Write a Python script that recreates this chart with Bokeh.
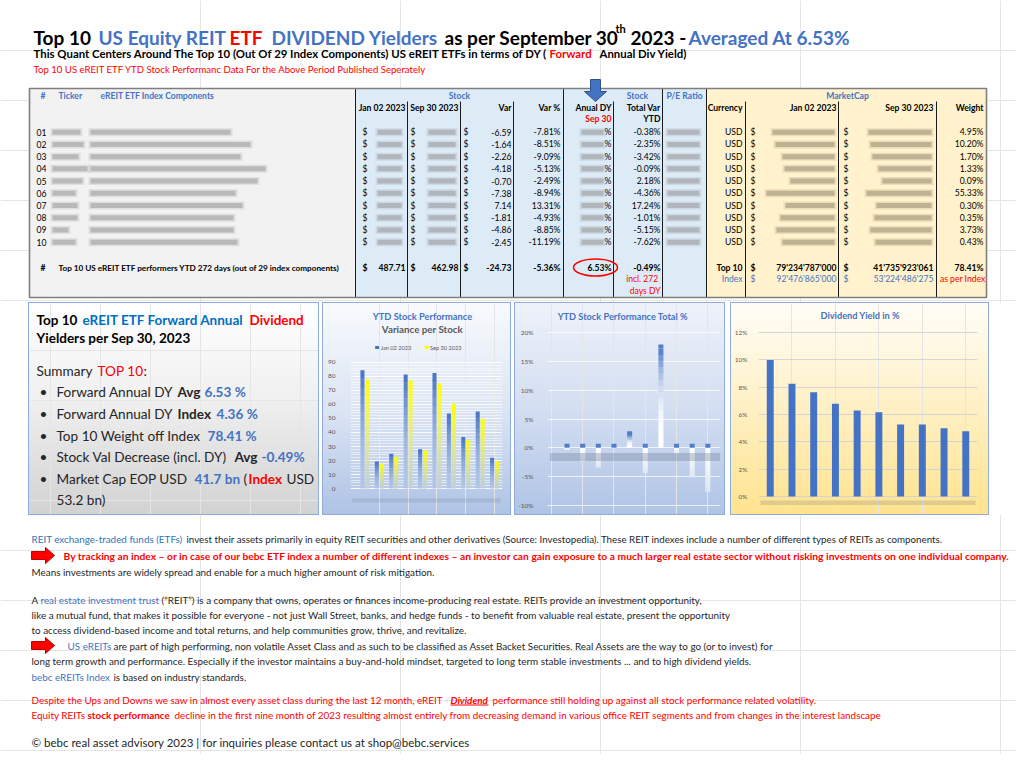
from bokeh.plotting import figure
from bokeh.models import Range1d, Spacer, FixedTicker, PrintfTickFormatter
from bokeh.layouts import column, row
from bokeh.core.properties import value
from bokeh.embed import file_html
from bokeh.resources import INLINE

FONT = "Lato"
BLUE = "#4472C4"
DBLUE = "#0070C0"
RED = "#FF0000"
GTXT = "#595959"

# ---------------- data ----------------
row_ids = ["01", "02", "03", "04", "05", "06", "07", "08", "09", "10"]
price_jan02 = [84.38, 19.27, 24.86, 81.48, 28.11, 82.55, 53.64, 36.71, 54.92, 21.89]
price_sep30 = [77.79, 17.63, 22.60, 77.30, 27.41, 75.17, 60.78, 34.90, 50.06, 19.44]
var_usd = [-6.59, -1.64, -2.26, -4.18, -0.70, -7.38, 7.14, -1.81, -4.86, -2.45]
var_pct = [-7.81, -8.51, -9.09, -5.13, -2.49, -8.94, 13.31, -4.93, -8.85, -11.19]
total_var_ytd = [-0.38, -2.35, -3.42, -0.09, 2.18, -4.36, 17.24, -1.01, -5.15, -7.62]
div_yield = [9.98, 8.24, 7.63, 6.78, 6.29, 6.17, 5.27, 5.27, 5.00, 4.77]
weight_pct = [4.95, 10.20, 1.70, 1.33, 0.09, 55.33, 0.30, 0.35, 3.73, 0.43]
currency = ["USD"] * 10
chart1_ticks = [0, 10, 20, 30, 40, 50, 60, 70, 80, 90]
chart2_ticks = [-10, -5, 0, 5, 10, 15, 20]
chart3_ticks = [0, 2, 4, 6, 8, 10, 12]
total_jan02 = 487.71
total_sep30 = 462.98
total_var_pct = -5.36
avg_dy = 6.53
avg_total_var = -0.49
index_dy = 4.36
weight_top10 = 78.41
mcap_top10 = ["79'234'787'000", "41'735'923'061"]
mcap_index = ["92'476'865'000", "53'224'486'275"]
mcap_eop_bn = 41.7
mcap_index_bn = 53.2


# ---------------- helpers ----------------
def hex2rgb(h):
    return tuple(int(h[i:i + 2], 16) for i in (1, 3, 5))


def rgb2hex(c):
    return "#%02x%02x%02x" % tuple(int(round(max(0, min(255, v)))) for v in c)


def mix(a, b, t):
    A, B = hex2rgb(a), hex2rgb(b)
    return rgb2hex([A[i] + (B[i] - A[i]) * t for i in range(3)])


def grad_at(stops, t):
    t = max(0.0, min(1.0, t))
    for (t0, c0), (t1, c1) in zip(stops[:-1], stops[1:]):
        if t <= t1:
            return mix(c0, c1, (t - t0) / (t1 - t0) if t1 > t0 else 0)
    return stops[-1][1]


def css_grad(stops):
    return "linear-gradient(to bottom, " + ", ".join(f"{c} {int(t * 100)}%" for t, c in stops) + ")"


def canvas(w, h, xr, yr):
    p = figure(width=w, height=h, x_range=Range1d(*xr), y_range=Range1d(*yr),
               output_backend="svg", toolbar_location=None,
               x_axis_location=None, y_axis_location=None,
               min_border_left=0, min_border_right=0, min_border_top=0, min_border_bottom=0)
    p.outline_line_color = None
    p.background_fill_color = None
    p.border_fill_color = None
    return p


def T(p, x, y, s, color="#000000", size=9.0, bold=False, italic=False, align="left", base="middle"):
    xs = list(x) if isinstance(x, (list, tuple)) else [x]
    ys = list(y) if isinstance(y, (list, tuple)) else [y] * len(xs)
    ss = list(s) if isinstance(s, (list, tuple)) else [s] * len(xs)
    st = "bold italic" if (bold and italic) else ("bold" if bold else ("italic" if italic else "normal"))
    p.text(x=xs, y=ys, text=ss, text_color=color, text_font=value(FONT),
           text_font_size=f"{size}px", text_font_style=st, text_align=align, text_baseline=base)


def blur(p, x0s, x1s, ycs, h=5.0, color="#8C8C8C"):
    p.quad(left=[a - 2 for a in x0s], right=[b + 2 for b in x1s],
           top=[y - h / 2 - 1.5 for y in ycs], bottom=[y + h / 2 + 1.5 for y in ycs],
           fill_color=color, fill_alpha=0.18, line_color=None)
    p.quad(left=x0s, right=x1s, top=[y - h / 2 for y in ycs], bottom=[y + h / 2 for y in ycs],
           fill_color=color, fill_alpha=0.45, line_color=None)


# ================= TOP: titles + table =================
top = canvas(1016, 303, (0, 1016), (303, 0))

TS = 19
T(top, 33, 37, "Top 10", size=TS, bold=True, base="alphabetic")
T(top, 98, 37, "US Equity REIT", BLUE, TS, True, base="alphabetic")
T(top, 229, 37, "ETF", RED, TS, True, base="alphabetic")
T(top, 271, 37, "DIVIDEND Yielders", BLUE, TS, True, base="alphabetic")
T(top, 444, 37, "as per September 30", size=TS, bold=True, base="alphabetic")
T(top, 615, 28, "th", size=11, bold=True, base="alphabetic")
T(top, 630, 37, "2023 -", size=TS, bold=True, base="alphabetic")
T(top, 688, 37, f"Averaged At {avg_dy:.2f}%", BLUE, TS, True, base="alphabetic")

T(top, 33, 53, "This Quant Centers Around The Top 10 (Out Of 29 Index Components) US eREIT ETFs in terms of DY (",
  size=11.4, bold=True)
T(top, 549, 53, "Forward", RED, 11.4, True)
T(top, 599, 53, "Annual Div Yield)", size=11.4, bold=True)
T(top, 33, 69, "Top 10 US eREIT ETF YTD Stock Performanc Data For the Above Period Published Seperately",
  RED, 9.6)

# table backgrounds and rules
top.quad(left=[29, 355, 706], right=[355, 706, 986], top=[88, 88, 88], bottom=[297, 297, 297],
         fill_color=["#F2F2F2", "#DDEBF7", "#FFF2CC"], line_color=None)
full_lines = [355, 563, 662, 706]
part_lines = [407, 460, 513, 613, 745, 838, 936]
top.segment(x0=full_lines, y0=[88] * 4, x1=full_lines, y1=[297] * 4, line_color="#1A1A1A", line_width=1)
top.segment(x0=part_lines, y0=[101] * 7, x1=part_lines, y1=[297] * 7, line_color="#1A1A1A", line_width=1)
top.quad(left=[29], right=[986], top=[88], bottom=[297], fill_color=None,
         line_color="#7F7F7F", line_width=1.6)

# header
HS = 8.6
T(top, 40, 95, "#", BLUE, HS, True)
T(top, 58, 95, "Ticker", BLUE, HS, True)
T(top, 100, 95, "eREIT ETF Index Components", BLUE, HS, True)
T(top, [459, 637, 684, 847], 95, ["Stock", "Stock", "P/E Ratio", "MarketCap"], BLUE, HS, True, align="center")
T(top, [405, 458, 511, 560, 611, 660, 742, 836, 933, 983], 107,
  ["Jan 02 2023", "Sep 30 2023", "Var", "Var %", "Anual DY", "Total Var", "Currency",
   "Jan 02 2023", "Sep 30 2023", "Weight"], size=HS, bold=True, align="right")
T(top, 611, 118, "Sep 30", RED, HS, True, align="right")
T(top, 660, 118, "YTD", size=HS, bold=True, align="right")

# blue arrow above Anual DY
top.patch(x=[590, 600, 600, 606, 595, 584, 590], y=[79, 79, 91, 91, 101, 91, 91],
          fill_color=BLUE, line_color="#2F528F", line_width=1)

# rows
ROW_Y = [131.7 + 12.22 * i for i in range(10)]
RS = 8.6
T(top, [36] * 10, ROW_Y, row_ids, size=RS)
for xd in (362, 410, 463, 750, 843):
    T(top, [xd] * 10, ROW_Y, "$", size=RS)
T(top, [511] * 10, ROW_Y, [f"{v:.2f}" for v in var_usd], size=RS, align="right")
T(top, [560] * 10, ROW_Y, [f"{v:.2f}%" for v in var_pct], size=RS, align="right")
T(top, [611] * 10, ROW_Y, "%", size=RS, align="right")
T(top, [660] * 10, ROW_Y, [f"{v:.2f}%" for v in total_var_ytd], size=RS, align="right")
T(top, [742] * 10, ROW_Y, currency, size=RS, align="right")
T(top, [983] * 10, ROW_Y, [f"{v:.2f}%" for v in weight_pct], size=RS, align="right")

# blurred (redacted) cells
tick_end = [80, 83, 78, 87, 82, 75, 77, 77, 68, 75]
name_end = [230, 250, 240, 265, 257, 235, 242, 233, 233, 237]
blur(top, [52] * 10, tick_end, ROW_Y)
blur(top, [90] * 10, name_end, ROW_Y)
blur(top, [377] * 10, [401] * 10, ROW_Y)
blur(top, [428] * 10, [455] * 10, ROW_Y)
blur(top, [581] * 10, [603] * 10, ROW_Y)
blur(top, [667] * 10, [699] * 10, ROW_Y)
mc1_start = [772, 775, 782, 784, 790, 766, 785, 780, 776, 782]
mc2_start = [868, 870, 872, 878, 882, 866, 876, 874, 870, 875]
blur(top, mc1_start, [834] * 10, ROW_Y, color="#8A7F66")
blur(top, mc2_start, [931] * 10, ROW_Y, color="#8A7F66")

# totals rows
YT, YI = 267, 278.5
T(top, 40, YT, "#", size=RS, bold=True)
T(top, 58, YT, "Top 10 US eREIT ETF performers YTD 272 days (out of 29 index components)", size=8.2, bold=True)
T(top, [362, 410, 463, 750, 843], YT, "$", size=RS, bold=True)
T(top, [405, 458, 511, 560, 611, 660, 742, 836, 933, 983], YT,
  [f"{total_jan02:.2f}", f"{total_sep30:.2f}", f"{sum(var_usd):.2f}", f"{total_var_pct:.2f}%",
   f"{avg_dy:.2f}%", f"{avg_total_var:.2f}%", "Top 10", mcap_top10[0], mcap_top10[1], f"{weight_top10:.2f}%"],
  size=RS, bold=True, align="right")
top.ellipse(x=[595], y=[267], width=[44], height=[17], fill_color=None, line_color=RED, line_width=1.5)
T(top, 660, YI, "incl.  272", RED, RS, align="right")
T(top, 660, 290, "days DY", RED, RS, align="right")
T(top, [742, 836, 933], YI, ["Index", mcap_index[0], mcap_index[1]], BLUE, RS, align="right")
T(top, [750, 843], YI, "$", BLUE, RS)
T(top, 985, YI, "as per Index", RED, RS, align="right")

# ================= SUMMARY BOX =================
summ = canvas(289, 211, (29, 318), (514, 303))
summ.styles = {"background": "linear-gradient(to bottom, #FFFFFF 0%, #F0F0F0 45%, #D2D2D2 100%)",
               "outline": "1px solid #8FAADC"}
S1 = 13.5
T(summ, 36, 319, "Top 10", size=S1, bold=True, base="alphabetic")
T(summ, 82, 319, "eREIT ETF Forward Annual", DBLUE, S1, True, base="alphabetic")
T(summ, 249, 319, "Dividend", RED, S1, True, base="alphabetic")
T(summ, 36, 337, "Yielders per Sep 30, 2023", size=S1, bold=True, base="alphabetic")
S2 = 13.6
DK = "#262626"
T(summ, 36, 370, "Summary", DK, S2, base="alphabetic")
T(summ, 97, 370, "TOP 10", RED, S2, base="alphabetic")
T(summ, 143, 370, ":", DK, S2, base="alphabetic")
BY = [391, 413, 435, 456, 478]
T(summ, [39] * 5, BY, "•", DK, S2, base="alphabetic")
T(summ, 56, BY[0], "Forward Annual DY", DK, S2, base="alphabetic")
T(summ, 177, BY[0], "Avg", DK, S2, True, base="alphabetic")
T(summ, 204, BY[0], f"{avg_dy:.2f} %", BLUE, S2, True, base="alphabetic")
T(summ, 56, BY[1], "Forward Annual DY", DK, S2, base="alphabetic")
T(summ, 177, BY[1], "Index", DK, S2, True, base="alphabetic")
T(summ, 216, BY[1], f"{index_dy:.2f} %", BLUE, S2, True, base="alphabetic")
T(summ, 56, BY[2], "Top 10 Weight off Index", DK, S2, base="alphabetic")
T(summ, 207, BY[2], f"{weight_top10:.2f} %", BLUE, S2, True, base="alphabetic")
T(summ, 56, BY[3], "Stock Val Decrease (incl. DY)", DK, S2, base="alphabetic")
T(summ, 234, BY[3], "Avg", DK, S2, True, base="alphabetic")
T(summ, 261, BY[3], f"{avg_total_var:.2f}%", BLUE, S2, True, base="alphabetic")
T(summ, 56, BY[4], "Market Cap EOP USD", DK, S2, base="alphabetic")
T(summ, 194, BY[4], f"{mcap_eop_bn:.1f} bn", BLUE, S2, True, base="alphabetic")
T(summ, 243, BY[4], "(", DK, S2, base="alphabetic")
T(summ, 248, BY[4], "Index", RED, S2, True, base="alphabetic")
T(summ, 286, BY[4], "USD", DK, S2, base="alphabetic")
T(summ, 56, 499, f"{mcap_index_bn:.1f} bn)", DK, S2, base="alphabetic")


# ================= CHARTS =================
def chart(w, xr, yr, mbl, mbr, ticks, minor, fmt, gcol, galpha, standoff):
    p = figure(width=w, height=211, x_range=Range1d(*xr), y_range=Range1d(*yr),
               output_backend="svg", toolbar_location=None, x_axis_location=None,
               min_border_left=mbl, min_border_right=mbr, min_border_top=0, min_border_bottom=0)
    p.outline_line_color = None
    p.background_fill_color = None
    p.border_fill_color = None
    tk = FixedTicker(ticks=ticks, minor_ticks=minor)
    ax = p.yaxis[0]
    ax.ticker = tk
    if fmt:
        ax.formatter = PrintfTickFormatter(format=fmt)
    ax.axis_line_color = None
    ax.major_tick_line_color = None
    ax.minor_tick_line_color = None
    ax.major_label_text_font = FONT
    ax.major_label_text_font_size = "6.5px"
    ax.major_label_text_color = GTXT
    ax.major_label_standoff = standoff
    g = p.ygrid[0]
    g.ticker = tk
    g.grid_line_color = gcol
    g.grid_line_alpha = galpha
    return p


def grad_vbar(p, xs, vals, width, colfn, n=14, ov=0.3):
    """Vertical gradient bars, drawn as opaque bands (colour from colfn(fraction, value))."""
    for k in range(n):
        lo, hi, cols = [], [], []
        for v in vals:
            s = 1 if v >= 0 else -1
            lo.append(v * k / n)
            h = v * (k + 1) / n
            if k < n - 1:
                h += s * min(ov, abs(v) / n * 0.5)
            hi.append(h)
            cols.append(colfn((k + 0.5) / n, v * (k + 0.5) / n))
        p.vbar(x=xs, bottom=lo, top=hi, width=width, fill_color=cols, line_color=None)


xs = list(range(1, 11))

# ---- chart 1: prices ----
C1_BG = [(0.0, "#F8FAFD"), (0.5, "#DCE5F4"), (1.0, "#AFC3E5")]
c1 = chart(187, (0, 10.55), (-18.57, 132.14), 27, 8, chart1_ticks,
           [v for v in range(0, 91, 2) if v % 10], None, "white", 0.9, 9)
c1.ygrid[0].minor_grid_line_color = "white"
c1.ygrid[0].minor_grid_line_alpha = 0.55
c1.styles = {"background": css_grad(C1_BG), "outline": "1px solid #8FAADC"}


def bg1(v):
    return grad_at(C1_BG, (488 - v * 1.4 - 303) / 211)


grad_vbar(c1, [x - 0.17 for x in xs], price_jan02, 0.28,
          lambda f, v: mix(bg1(v), BLUE, 0.08 + 0.92 * f ** 1.4))
grad_vbar(c1, [x + 0.17 for x in xs], price_sep30, 0.28,
          lambda f, v: mix(bg1(v), "#FFFF00", 0.08 + 0.92 * f ** 1.4))
T(c1, 4.99, 122.9, "YTD Stock Performance", BLUE, 9.3, True, align="center")
T(c1, 4.99, 113.6, "Variance per Stock", GTXT, 9.8, True, align="center")
c1.rect(x=[1.85, 5.28], y=[100.7, 100.7], width=4, height=3, width_units="screen", height_units="screen",
        fill_color=[BLUE, "#FFFF00"], line_color=None)
T(c1, [2.1, 5.52], 100.7, ["Jan 02 2023", "Sep 30 2023"], GTXT, 5.6)
c1.quad(left=[0.1], right=[10.4], top=[-7.0], bottom=[-10.0], fill_color="#7F8CA3", fill_alpha=0.25,
        line_color=None)

# ---- chart 2: total var ----
C2_BG = [(0.0, "#EEF2FA"), (0.5, "#D3DEF1"), (1.0, "#B0C4E6")]
c2 = chart(209, (-0.25, 10.81), (-11.56, 25.03), 28, 4, chart2_ticks, [], "%d%%", "white", 0.75, 8)
c2.styles = {"background": css_grad(C2_BG), "outline": "1px solid #8FAADC"}


def bg2(v):
    return grad_at(C2_BG, (448 - v * 5.767 - 303) / 211)


pos = [max(v, 0) for v in total_var_ytd]
neg = [min(v, 0) for v in total_var_ytd]
grad_vbar(c2, xs, neg, 0.32, lambda f, v: mix(bg2(v), "#FFFFFF", 1.0 - 0.5 * f), n=10, ov=0.1)
grad_vbar(c2, xs, pos, 0.32, lambda f, v: mix("#FFFFFF", BLUE, 0.95 * f ** 2.5), n=16, ov=0.1)
c2.quad(left=[-0.1], right=[10.81], top=[-0.9], bottom=[-2.3], fill_color="#6F7F99", fill_alpha=0.35,
        line_color=None)
c2.vbar(x=xs, bottom=pos, top=[v + 0.7 for v in pos], width=0.32, fill_color=BLUE, fill_alpha=0.9,
        line_color=None)
T(c2, 4.56, 22.77, "YTD Stock Performance Total %", BLUE, 9.2, True, align="center")

# ---- chart 3: dividend yield ----
C3_BG = [(0.0, "#FFFDF6"), (0.5, "#FFF0C4"), (1.0, "#FFE38F")]
c3 = chart(257, (0.459, 10.54), (-1.317, 14.12), 22, 11, chart3_ticks, [], "%d%%", "#C9CDD6", 0.8, 5)
c3.styles = {"background": css_grad(C3_BG), "outline": "1px solid #8FAADC"}
c3.vbar(x=xs, top=div_yield, width=0.32, fill_color=BLUE, line_color=None)
T(c3, 5.14, 13.24, "Dividend Yield in %", BLUE, 9.2, True, align="center")
c3.quad(left=[0.55], right=[10.45], top=[-0.3], bottom=[-0.62], fill_color="#7F7F7F", fill_alpha=0.25,
        line_color=None)

# ================= BOTTOM TEXT =================
bot = canvas(1016, 240, (0, 1016), (754, 514))
BS = 9.9


def red_arrow(p, x0, yc):
    p.patch(x=[x0, x0 + 14, x0 + 14, x0 + 23, x0 + 14, x0 + 14, x0],
            y=[yc - 4, yc - 4, yc - 8, yc, yc + 8, yc + 4, yc + 4],
            fill_color=RED, line_color="#C00000", line_width=1)


T(bot, 31, 538, "REIT exchange-traded funds (ETFs)", "#2E75B6", BS)
T(bot, 186, 538, "invest their assets primarily in equity REIT securities and other derivatives (Source: "
  "Investopedia). These REIT indexes include a number of different types of REITs as components.", DK, 9.75)
red_arrow(bot, 31, 555)
T(bot, 63, 555, "By tracking an index – or in case of our bebc ETF index a number of different indexes – an "
  "investor can gain exposure to a much larger real estate sector without risking investments on one "
  "individual company.", RED, 10.3, True)
T(bot, 31, 571, "Means investments are widely spread and enable for a much higher amount of risk mitigation.",
  DK, BS)

T(bot, 31, 599, "A", DK, BS)
T(bot, 40, 599, "real estate investment trust", BLUE, BS)
T(bot, 161, 599, "(“REIT”) is a company that owns, operates or finances income-producing real estate. REITs "
  "provide an investment opportunity,", DK, BS)
T(bot, 31, 614, "like a mutual fund, that makes it possible for everyone - not just Wall Street, banks, and "
  "hedge funds - to benefit from valuable real estate, present the opportunity", DK, BS)
T(bot, 31, 629, "to access dividend-based income and total returns, and help communities grow, thrive, and "
  "revitalize.", DK, BS)
red_arrow(bot, 31, 645)
T(bot, 67, 645, "US eREITs", BLUE, BS)
T(bot, 113, 645, "are part of high performing, non volatile Asset Class and as such to be classified as Asset "
  "Backet Securities. Real Assets are the way to go (or to invest) for", DK, BS)
T(bot, 31, 660, "long term growth and performance. Especially if the investor maintains a buy-and-hold "
  "mindset, targeted to long term stable investments ... and to high dividend yields.", DK, BS)
T(bot, 31, 676, "bebc eREITs Index", BLUE, BS)
T(bot, 113, 676, "is based on industry standards.", DK, BS)

T(bot, 31, 699, "Despite the Ups and Downs we saw in almost every asset class during the last 12 month, eREIT",
  RED, BS)
T(bot, 450, 699, "Dividend", RED, BS, True, True)
bot.segment(x0=[450], y0=[704.5], x1=[488], y1=[704.5], line_color=RED, line_width=1)
T(bot, 492, 699, "performance still holding up against all stock performance related volatility.", RED, BS)
T(bot, 31, 714, "Equity REITs", RED, BS)
T(bot, 87, 714, "stock performance", RED, BS, True)
T(bot, 174, 714, "decline in the first nine month of 2023 resulting almost entirely from decreasing demand in "
  "various office REIT segments and from changes in the interest landscape", RED, BS)
T(bot, 31, 742, "© bebc real asset advisory 2023 | for inquiries please contact us at shop@bebc.services",
  DK, 11.5)

layout = column(
    top,
    row(Spacer(width=29, height=211), summ, Spacer(width=5, height=211), c1,
        Spacer(width=5, height=211), c2, Spacer(width=7, height=211), c3),
    bot,
)

open("out.html", "w").write(file_html(layout, INLINE, "Top 10 US Equity REIT ETF Dividend Yielders"))
